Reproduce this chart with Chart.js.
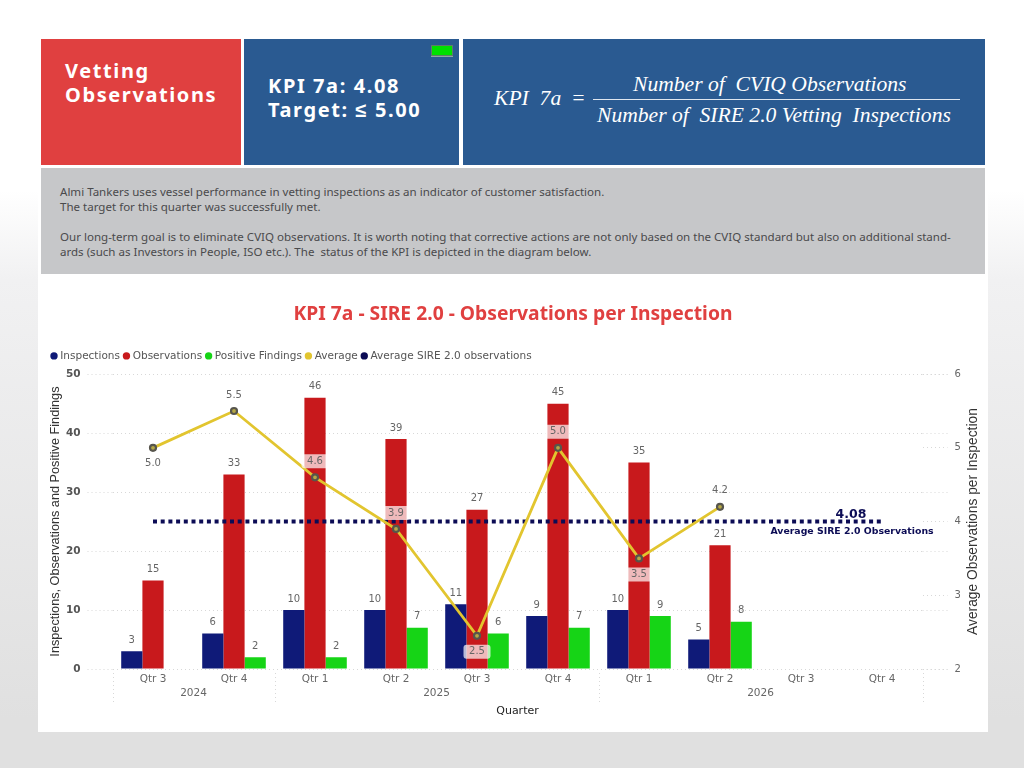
<!DOCTYPE html>
<html><head><meta charset="utf-8">
<script src="https://cdn.jsdelivr.net/npm/chart.js@4"></script>
<style>
html,body{margin:0;padding:0}
body{width:1024px;height:768px;position:relative;overflow:hidden;background:linear-gradient(#fff 190px,#f1f1f2 280px,#e0e0e0 720px)}
#panel{position:absolute;left:38px;top:0;width:950px;height:732px;background:#fff}
.box{position:absolute}
.t{position:absolute;white-space:nowrap}
.hd{font:700 20px "Noto Sans",sans-serif;color:#fff;letter-spacing:1.6px;line-height:24px}
.f{font:italic 21.6px "Liberation Serif",serif;color:#fff;line-height:24px}
.b{font:11.56px "Noto Sans",sans-serif;color:#4a4a4c;line-height:15px;left:60px}
canvas{position:absolute;left:38px;top:275px}
</style></head><body>
<div id="panel"></div>
<div class="box" style="left:41px;top:39px;width:200px;height:126px;background:#e04040"></div>
<div class="box" style="left:244px;top:39px;width:215px;height:126px;background:#2a5a91"></div>
<div class="box" style="left:463px;top:39px;width:522px;height:126px;background:#2a5a91"></div>
<div class="box" style="left:41px;top:168px;width:944px;height:106px;background:#c6c7c9"></div>
<div class="box" style="left:431px;top:45px;width:20px;height:9px;background:#00e000;border:1px solid #5d7d6a;box-shadow:0 1px 0 #8fa8a0"></div>
<div class="t hd" style="left:65px;top:59px">Vetting</div>
<div class="t hd" style="left:65px;top:83px">Observations</div>
<div class="t hd" style="left:268px;top:74px">KPI 7a: 4.08</div>
<div class="t hd" style="left:268px;top:98px">Target: ≤ 5.00</div>
<div class="t f" style="left:494px;top:86px">KPI&nbsp; 7a</div>
<div class="t f" style="left:571px;top:86px">=</div>
<div class="t f" style="left:633px;top:72px">Number of&nbsp; CVIQ Observations</div>
<div class="box" style="left:593px;top:99px;width:367px;height:1px;background:#dfe6ef"></div>
<div class="t f" style="left:597px;top:103px">Number of&nbsp; SIRE 2.0 Vetting&nbsp; Inspections</div>
<div class="t b" style="top:184px">Almi Tankers uses vessel performance in vetting inspections as an indicator of customer satisfaction.</div>
<div class="t b" style="top:199px">The target for this quarter was successfully met.</div>
<div class="t b" style="top:229px">Our long-term goal is to eliminate CVIQ observations. It is worth noting that corrective actions are not only based on the CVIQ standard but also on additional stand-</div>
<div class="t b" style="top:244px">ards (such as Investors in People, ISO etc.). The&nbsp; status of the KPI is depicted in the diagram below.</div>
<canvas id="c" width="950" height="457" style="width:950px;height:457px"></canvas>
<script>
const quarters = ['Qtr 3','Qtr 4','Qtr 1','Qtr 2','Qtr 3','Qtr 4','Qtr 1','Qtr 2','Qtr 3','Qtr 4'];
const years = ['2024','2025','2026'];
const yearCentres = [1,4,8];
const yearBounds = [0,2,6,10];
const inspections = [3,6,10,10,11,9,10,5,null,null];
const observations = [15,33,46,39,27,45,35,21,null,null];
const positives = [null,2,2,7,6,7,9,8,null,null];
const average = [5.0,5.5,4.6,3.9,2.45,5.0,3.5,4.2,null,null];
const averageLabels = ['5.0','5.5','4.6','3.9','2.5','5.0','3.5','4.2'];
const averageLabelBelow = [true,false,false,false,true,false,true,false];
const averageBoxed = [false,false,true,true,true,true,true,false];
const siteAverage = [4,4,4,4,4,4,4,4,4,4];

const FONT = '"DejaVu Sans",sans-serif';
const GRID = '#d8d8d8';

const extras = {
  id:'extras',
  beforeLayout(chart){
    const l = chart.legend;
    if(l && !l._patched){ const f=l.fit; l.fit=function(){f.call(this); this.height+=3;}; l._patched=true; }
  },
  beforeDatasetsDraw(chart){
    const {ctx,chartArea,scales} = chart;
    ctx.save();
    ctx.strokeStyle = GRID; ctx.lineWidth = 1; ctx.setLineDash([1,3]);
    scales.y.ticks.forEach(t=>{
      const y = Math.round(scales.y.getPixelForValue(t.value))+.5;
      ctx.beginPath(); ctx.moveTo(chartArea.right,y); ctx.lineTo(chartArea.right+25,y); ctx.stroke();
    });
    yearBounds.forEach(v=>{
      const x = Math.round(scales.x2.getPixelForValue(v))+.5;
      ctx.beginPath(); ctx.moveTo(x,chartArea.bottom+4); ctx.lineTo(x,chartArea.bottom+33); ctx.stroke();
    });
    ctx.restore();
  },
  afterDatasetsDraw(chart){
    const {ctx,chartArea} = chart;
    ctx.save();
    ctx.textAlign='center'; ctx.textBaseline='middle';
    ctx.font = '10px '+FONT; ctx.fillStyle='#666';
    [0,1,2].forEach(i=>{
      chart.getDatasetMeta(i).data.forEach((el,j)=>{
        const v = chart.data.datasets[i].data[j];
        if(v==null) return;
        ctx.fillText(String(v),el.x,el.y-11);
      });
    });
    chart.getDatasetMeta(3).data.forEach((el,j)=>{
      if(average[j]==null) return;
      const y = el.y + (averageLabelBelow[j]?16:-16);
      if(averageBoxed[j]){
        ctx.fillStyle='rgba(255,255,255,.7)';
        ctx.beginPath(); ctx.roundRect(el.x-13.5,y-7,27,14,3); ctx.fill();
      }
      ctx.fillStyle='#666';
      ctx.fillText(averageLabels[j],el.x,y);
    });
    const m = chart.getDatasetMeta(4).data[9];
    ctx.fillStyle='#0c0c55';
    ctx.font='bold 12.5px '+FONT;
    ctx.fillText('4.08',m.x-31,m.y-7);
    ctx.font='bold 9.35px '+FONT;
    ctx.fillText('Average SIRE 2.0 Observations',m.x-30,m.y+10);
    ctx.translate(935,(chartArea.top+chartArea.bottom)/2);
    ctx.rotate(-Math.PI/2);
    ctx.font='13.8px "Liberation Sans",sans-serif'; ctx.fillStyle='#333';
    ctx.fillText('Average Observations per Inspection',0,0);
    ctx.restore();
  }
};

new Chart(document.getElementById('c'),{
  type:'bar',
  data:{labels:quarters,datasets:[
    {label:'Inspections',data:inspections,backgroundColor:'#0f1a78',order:3,yAxisID:'y',barPercentage:1,categoryPercentage:.785},
    {label:'Observations',data:observations,backgroundColor:'#c8191c',order:3,yAxisID:'y',barPercentage:1,categoryPercentage:.785},
    {label:'Positive Findings',data:positives,backgroundColor:'#16d416',order:3,yAxisID:'y',barPercentage:1,categoryPercentage:.785},
    {type:'line',label:'Average',data:average,yAxisID:'y1',order:1,backgroundColor:'#e2c52f',borderColor:'#e2c52f',borderWidth:2.8,tension:0,spanGaps:false,
     pointRadius:3,pointBorderWidth:2.2,pointBackgroundColor:'#b5a845',pointBorderColor:'#57554c'},
    {type:'line',label:'Average SIRE 2.0 observations',data:siteAverage,yAxisID:'y1',order:2,backgroundColor:'#0c0c55',borderColor:'#0c0c55',borderWidth:4,borderDash:[4,3.7],pointRadius:0,tension:0}
  ]},
  options:{
    responsive:false,animation:false,devicePixelRatio:1,
    layout:{padding:{left:9.5,right:9.5,top:0,bottom:0}},
    plugins:{
      title:{display:true,text:'KPI 7a - SIRE 2.0 - Observations per Inspection',color:'#e04040',
        font:{family:'"Noto Sans",sans-serif',size:19.3,weight:'bold'},padding:{top:28,bottom:19}},
      legend:{display:true,position:'top',align:'start',
        labels:{usePointStyle:true,pointStyle:'circle',boxWidth:2,boxHeight:5.2,padding:5.5,color:'#555',font:{family:FONT,size:10.5},
          generateLabels(chart){
            return Chart.defaults.plugins.legend.labels.generateLabels(chart)
              .sort((a,b)=>a.datasetIndex-b.datasetIndex)
              .map(l=>Object.assign(l,{lineWidth:0,pointStyle:'circle',fillStyle:chart.data.datasets[l.datasetIndex].backgroundColor}));
          }}},
      tooltip:{enabled:false}
    },
    scales:{
      x:{type:'category',position:'bottom',offset:true,grid:{display:false,drawTicks:false},border:{display:false},
        ticks:{color:'#666',font:{family:FONT,size:10.5},padding:4,maxRotation:0,autoSkip:false},
        afterFit(s){s.height=18;}},
      x2:{type:'linear',position:'bottom',offset:false,min:0,max:10,grid:{display:false,drawTicks:false,offset:false},border:{display:false},
        afterBuildTicks(s){s.ticks=yearCentres.map(v=>({value:v}));},
        ticks:{color:'#666',font:{family:FONT,size:10.5},padding:0,maxRotation:0,autoSkip:false,callback(v){return years[yearCentres.indexOf(v)];}},
        title:{display:true,text:'Quarter',color:'#222',font:{family:FONT,size:11},padding:{top:0,bottom:14}},
        afterFit(s){s.height=45;}},
      y:{position:'left',min:0,max:50,border:{display:false,dash:[1,3]},
        grid:{color:GRID,lineWidth:1,tickLength:25,tickColor:GRID,tickBorderDash:[1,3]},
        ticks:{stepSize:10,color:'#555',font:{family:FONT,size:10.5,weight:'bold'},padding:7},
        title:{display:true,text:'Inspections, Observations and Positive Findings',color:'#333',font:{family:'"Liberation Sans",sans-serif',size:12.7},padding:{top:0,bottom:0}},
        afterFit(s){s.width=65;}},
      y1:{position:'right',min:2,max:6,border:{display:false},
        grid:{drawOnChartArea:false,tickLength:25,tickColor:GRID,tickBorderDash:[1,3]},
        ticks:{stepSize:1,color:'#666',font:{family:FONT,size:10},padding:7},
        afterFit(s){s.width=56;}}
    }
  },
  plugins:[extras]
});
</script>
</body></html>
